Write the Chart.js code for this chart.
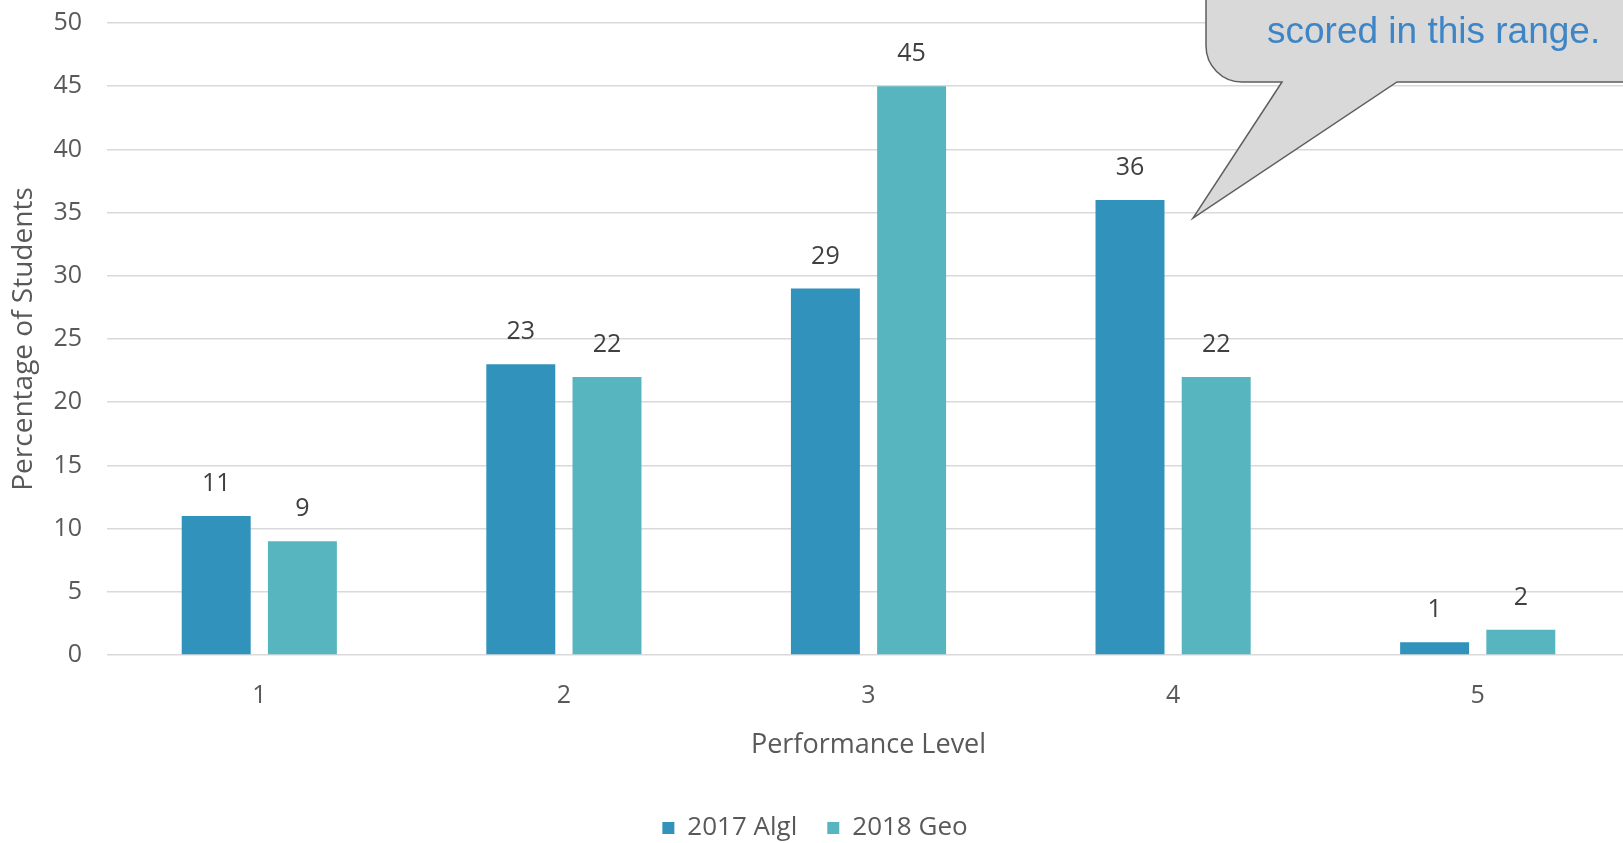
<!DOCTYPE html>
<html>
<head>
<meta charset="utf-8">
<script src="https://cdn.jsdelivr.net/npm/chart.js@4.4.1/dist/chart.umd.min.js"></script>
<style>
  html, body { margin: 0; padding: 0; overflow: hidden; background: #ffffff; }
  #wrap { width: 1630px; height: 843px; }
</style>
</head>
<body>
<div id="wrap"><canvas id="chart" width="1630" height="843"></canvas></div>
<script>
// Performance levels and the share of students at each level
const levels = ['1', '2', '3', '4', '5'];
const algebra2017 = [11, 23, 29, 36, 1];
const geometry2018 = [9, 22, 45, 22, 2];
const seriesNames = ['2017 Algl', '2018 Geo'];
const yMin = 0, yMax = 50, yStep = 5;
const calloutText = 'scored in this range.';

const FONT = '"Open Sans", "DejaVu Sans", sans-serif';
const TEXT_GREY = '#595959';

// Numbers printed above every bar
const valueLabels = {
  id: 'valueLabels',
  afterDatasetsDraw(chart) {
    const ctx = chart.ctx;
    ctx.save();
    ctx.font = '25px ' + FONT;
    ctx.fillStyle = '#404040';
    ctx.textAlign = 'center';
    ctx.textBaseline = 'middle';
    chart.data.datasets.forEach((ds, i) => {
      chart.getDatasetMeta(i).data.forEach((bar, j) => {
        ctx.fillText(String(ds.data[j]), bar.x, bar.y - 32);
      });
    });
    ctx.restore();
  }
};

// Speech-bubble note pointing at the level 4 bar
const callout = {
  id: 'callout',
  afterDraw(chart) {
    const ctx = chart.ctx;
    const left = 1206, bottom = 82, r = 36, right = 1660, top = -200;
    const tailL = 1282, tailR = 1397, tipX = 1193, tipY = 218;
    ctx.save();
    ctx.beginPath();
    ctx.moveTo(tailL, bottom);
    ctx.lineTo(tipX, tipY);
    ctx.lineTo(tailR, bottom);
    ctx.lineTo(right, bottom);
    ctx.lineTo(right, top);
    ctx.lineTo(left, top);
    ctx.lineTo(left, bottom - r);
    ctx.arcTo(left, bottom, left + r, bottom, r);
    ctx.closePath();
    ctx.fillStyle = '#d9d9d9';
    ctx.fill();
    ctx.lineWidth = 1.5;
    ctx.strokeStyle = '#5f5f5f';
    ctx.stroke();
    ctx.font = '37px "Liberation Sans", Arial, sans-serif';
    ctx.fillStyle = '#3d85c6';
    ctx.textAlign = 'left';
    ctx.textBaseline = 'alphabetic';
    ctx.fillText(calloutText, 1267, 43);
    ctx.restore();
  }
};

new Chart(document.getElementById('chart'), {
  type: 'bar',
  data: {
    labels: levels,
    datasets: [
      { label: seriesNames[0], data: algebra2017, backgroundColor: '#3192bb', borderWidth: 0 },
      { label: seriesNames[1], data: geometry2018, backgroundColor: '#57b5bf', borderWidth: 0 }
    ]
  },
  options: {
    responsive: false,
    animation: false,
    events: [],
    categoryPercentage: 0.566,
    barPercentage: 0.8,
    layout: { padding: { top: 23, right: 0, bottom: -8, left: 0 } },
    plugins: {
      tooltip: { enabled: false },
      legend: {
        position: 'bottom',
        labels: {
          boxWidth: 12,
          boxHeight: 12,
          padding: 30,
          color: TEXT_GREY,
          font: { family: FONT, size: 26 }
        }
      }
    },
    scales: {
      x: {
        grid: { display: false, drawTicks: false },
        border: { display: false },
        ticks: { color: TEXT_GREY, font: { family: FONT, size: 25 }, padding: 26 },
        title: {
          display: true,
          text: 'Performance Level',
          color: TEXT_GREY,
          font: { family: FONT, size: 27 },
          padding: { top: 0, bottom: 23 }
        },
        afterFit(scale) { scale.height = 130; }
      },
      y: {
        min: yMin,
        max: yMax,
        ticks: { stepSize: yStep, color: TEXT_GREY, font: { family: FONT, size: 25 }, padding: 25 },
        grid: { color: '#d9d9d9', lineWidth: 1.5, drawTicks: false },
        border: { display: false },
        title: {
          display: true,
          text: 'Percentage of Students',
          color: TEXT_GREY,
          font: { family: FONT, size: 28 },
          padding: { top: 7, bottom: 0 }
        },
        afterFit(scale) {
          scale.width = 107;
          // the plot edges are set by the layout padding alone
          scale.paddingTop = 0;
          scale.paddingBottom = 0;
        }
      }
    }
  },
  plugins: [valueLabels, callout]
});
</script>
</body>
</html>
